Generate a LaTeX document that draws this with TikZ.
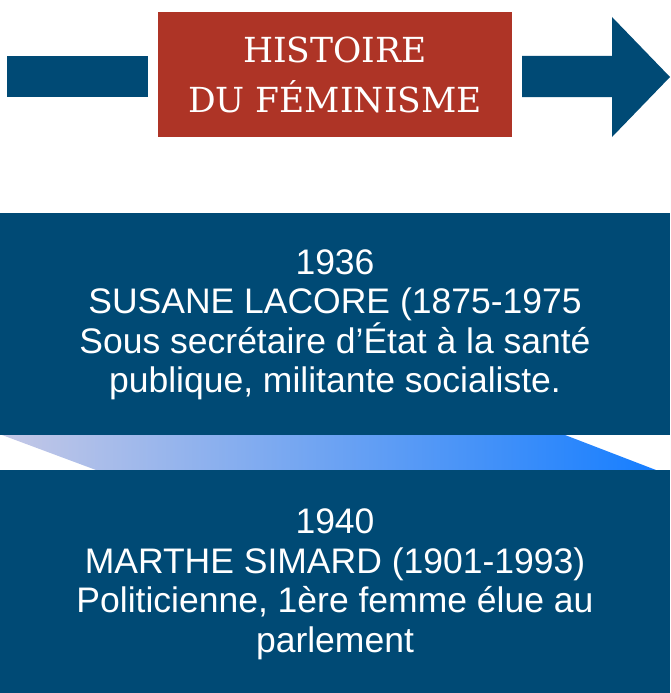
\documentclass[tikz,border=0pt]{standalone}
\usepackage{fontspec}
\setmainfont{Liberation Sans}
\newfontfamily\titlefont{DejaVu Serif}
\definecolor{navy}{RGB}{0,74,117}
\definecolor{brick}{RGB}{174,52,38}
\definecolor{gradL}{RGB}{196,200,230}
\definecolor{gradR}{RGB}{22,126,255}
\tikzset{
  bodytext/.style={text=white,align=center,font=\fontsize{35.5}{39.5}\selectfont,inner sep=0pt},
  titletext/.style={text=white,align=center,font=\titlefont\fontsize{34.5}{50}\selectfont,inner sep=0pt}
}
\begin{document}
\begin{tikzpicture}[x=1pt,y=-1pt]
\useasboundingbox (0,0) rectangle (670,693);
% top arrow pieces
\fill[navy] (7,56) rectangle (148,97);
\fill[brick] (158,12) rectangle (512,137);
\node[titletext] (title) at (335,74.5) {HISTOIRE\\DU FÉMINISME};
\fill[navy] (522,56) -- (612,56) -- (612,17) -- (670,77) -- (612,137) -- (612,97) -- (522,97) -- cycle;
% boxes
\fill[navy] (0,213) rectangle (670,435);
\shade[left color=gradL,right color=gradR] (2,435) -- (565,435) -- (656,470) -- (96,470) -- cycle;
\fill[navy] (0,470) rectangle (670,693);
\node[bodytext] (e1) at (335,325) {1936\\SUSANE LACORE (1875-1975\\Sous secrétaire d’État à la santé\\publique, militante socialiste.};
\node[bodytext] (e2) at (335,584.5) {1940\\MARTHE SIMARD (1901-1993)\\Politicienne, 1ère femme élue au\\parlement};
\end{tikzpicture}
\end{document}
